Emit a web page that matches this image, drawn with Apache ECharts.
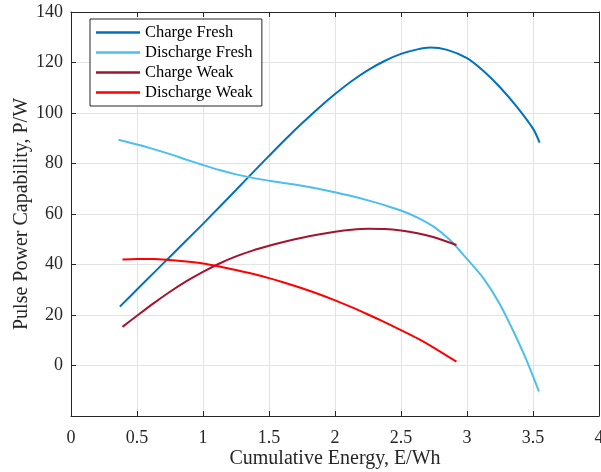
<!DOCTYPE html>
<html>
<head>
<meta charset="utf-8">
<script src="https://cdn.jsdelivr.net/npm/echarts@6/dist/echarts.min.js"></script>
<style>html,body{margin:0;padding:0;background:#fff}#c{width:601px;height:472px}</style>
</head>
<body>
<div id="c"></div>
<script>
// Data
const chargeFreshE = [0.37, 0.5, 0.625, 0.75, 0.875, 1.0, 1.125, 1.25, 1.375, 1.5, 1.625, 1.75, 1.875, 2.0, 2.125, 2.25, 2.375, 2.5, 2.625, 2.72, 2.85, 3.0, 3.125, 3.25, 3.375, 3.5, 3.55];
const chargeFreshP = [23.3, 30.1, 36.6, 43.1, 49.6, 56.1, 62.8, 69.5, 76.3, 83.0, 89.6, 95.9, 101.9, 107.5, 112.6, 117.0, 120.6, 123.4, 125.2, 125.9, 125.0, 121.7, 116.6, 110.2, 102.6, 93.8, 88.3];

const dischargeFreshE = [0.36, 0.5, 0.625, 0.75, 0.875, 1.0, 1.125, 1.25, 1.375, 1.5, 1.625, 1.75, 1.875, 2.0, 2.125, 2.25, 2.375, 2.5, 2.625, 2.75, 2.875, 3.0, 3.125, 3.25, 3.375, 3.45, 3.545];
const dischargeFreshP = [89.4, 87.5, 85.7, 83.7, 81.5, 79.4, 77.4, 75.7, 74.3, 73.2, 72.2, 71.2, 70.0, 68.6, 67.1, 65.4, 63.5, 61.4, 58.6, 54.9, 49.5, 42.2, 34.5, 24.2, 11.0, 2.2, -10.3];

const chargeWeakE = [0.39, 0.5, 0.625, 0.75, 0.875, 1.0, 1.125, 1.25, 1.375, 1.5, 1.625, 1.75, 1.875, 2.0, 2.125, 2.25, 2.375, 2.5, 2.625, 2.75, 2.92];
const chargeWeakP = [15.3, 19.7, 24.6, 29.2, 33.4, 37.1, 40.4, 43.2, 45.5, 47.4, 49.1, 50.6, 51.9, 53.0, 53.8, 54.2, 54.1, 53.5, 52.4, 50.8, 47.7];

const dischargeWeakE = [0.39, 0.5, 0.625, 0.75, 0.875, 1.0, 1.125, 1.25, 1.375, 1.5, 1.625, 1.75, 1.875, 2.0, 2.125, 2.25, 2.375, 2.5, 2.625, 2.75, 2.92];
const dischargeWeakP = [42.0, 42.2, 42.2, 41.8, 41.2, 40.4, 39.2, 37.8, 36.3, 34.6, 32.7, 30.6, 28.3, 25.8, 23.1, 20.2, 17.2, 14.0, 10.7, 7.0, 1.5];

const seriesNames = ['Charge Fresh', 'Discharge Fresh', 'Charge Weak', 'Discharge Weak'];
const seriesColors = ['#0072BD', '#4DBEEE', '#A2142F', '#FF0000'];

const xTicks = [0, 0.5, 1, 1.5, 2, 2.5, 3, 3.5, 4];
const yTicks = [-20, 0, 20, 40, 60, 80, 100, 120, 140];

const xName = 'Cumulative Energy, E/Wh';
const yName = 'Pulse Power Capability, P/W';

function pairs(xs, ys) { return xs.map((x, i) => [x, ys[i]]); }
const allData = [
  pairs(chargeFreshE, chargeFreshP),
  pairs(dischargeFreshE, dischargeFreshP),
  pairs(chargeWeakE, chargeWeakP),
  pairs(dischargeWeakE, dischargeWeakP)
];

const FONT = 'Liberation Serif';
const AX = '#262626';
const GRIDC = '#e3e3e3';

const chart = echarts.init(document.getElementById('c'), null, {renderer: 'canvas'});
const xStep = xTicks[1] - xTicks[0];
const yStep = yTicks[1] - yTicks[0];

const baseX = {
  type: 'value', min: xTicks[0], max: xTicks[xTicks.length - 1], interval: xStep,
  axisLine: {show: true, onZero: false, lineStyle: {color: AX, width: 1}},
  axisTick: {show: true, inside: true, length: 5, lineStyle: {color: AX}},
};
const baseY = {
  type: 'value', min: yTicks[0], max: yTicks[yTicks.length - 1], interval: yStep,
  axisLine: {show: true, onZero: false, lineStyle: {color: AX, width: 1}},
  axisTick: {show: true, inside: true, length: 5, lineStyle: {color: AX}},
};

chart.setOption({
  animation: false,
  backgroundColor: '#fff',
  grid: {left: 71, right: 2, top: 12, bottom: 56, containLabel: false, outerBoundsMode: 'none'},
  xAxis: [
    Object.assign({}, baseX, {
      position: 'bottom',
      name: xName, nameLocation: 'middle', nameGap: 33, nameMoveOverlap: false,
      nameTextStyle: {fontFamily: FONT, fontSize: 20, color: AX},
      axisLabel: {show: true, margin: 13, fontFamily: FONT, fontSize: 18, color: AX,
        formatter: v => String(v)},
      splitLine: {show: true, lineStyle: {color: GRIDC, width: 1}}
    }),
    Object.assign({}, baseX, {
      position: 'top',
      axisLabel: {show: false},
      splitLine: {show: false}
    })
  ],
  yAxis: [
    Object.assign({}, baseY, {
      position: 'left',
      name: yName, nameLocation: 'middle', nameGap: 39, nameRotate: 90, nameMoveOverlap: false,
      nameTextStyle: {fontFamily: FONT, fontSize: 20, color: AX},
      axisLabel: {show: true, margin: 8, fontFamily: FONT, fontSize: 18, color: AX,
        formatter: v => (v < 0 ? '' : String(v))},
      splitLine: {show: true, lineStyle: {color: GRIDC, width: 1}}
    }),
    Object.assign({}, baseY, {
      position: 'right',
      axisLabel: {show: false},
      splitLine: {show: false}
    })
  ],
  legend: {
    show: true,
    orient: 'vertical',
    left: 90, top: 19,
    padding: [5, 9, 5, 6],
    itemGap: 3,
    itemWidth: 44, itemHeight: 2.5,
    itemTextGap: 5,
    icon: 'rect',
    borderColor: AX, borderWidth: 1,
    backgroundColor: '#fff',
    selectedMode: false,
    textStyle: {fontFamily: FONT, fontSize: 16.5, color: '#000', lineHeight: 16},
    data: seriesNames
  },
  series: allData.map((d, i) => ({
    name: seriesNames[i],
    type: 'line',
    xAxisIndex: 0, yAxisIndex: 0,
    data: d,
    smooth: 0.3,
    showSymbol: false,
    symbol: 'none',
    color: seriesColors[i],
    lineStyle: {color: seriesColors[i], width: 2},
    z: 3 + i
  }))
});
</script>
</body>
</html>
